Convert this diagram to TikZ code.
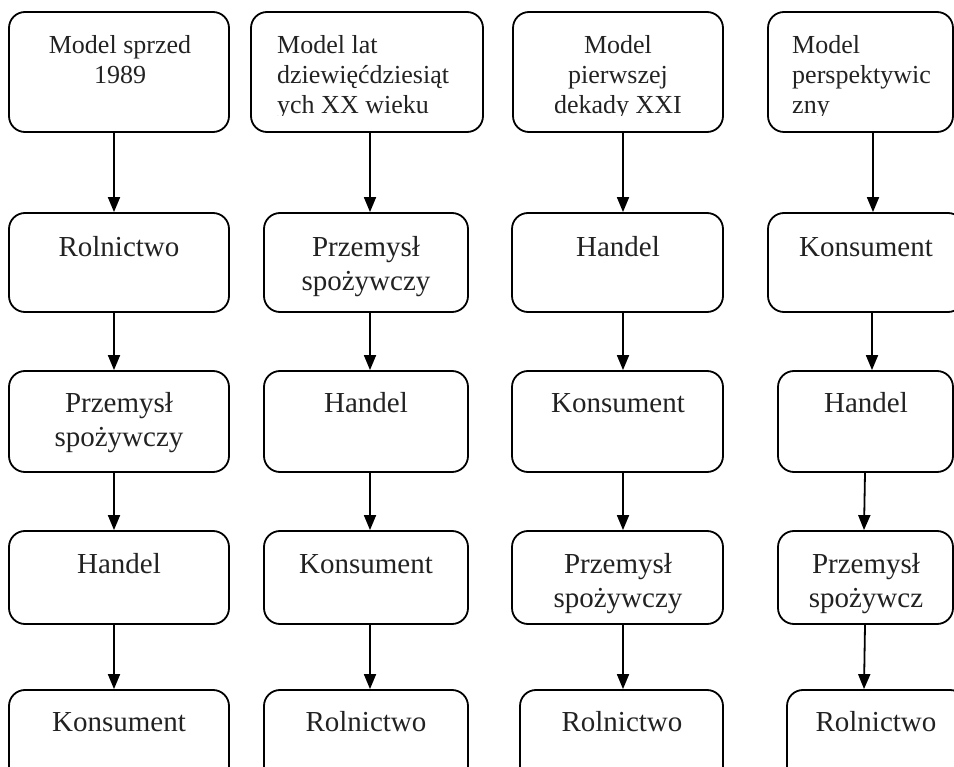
\documentclass[tikz,border=0pt]{standalone}
\usepackage{fontspec}
\setmainfont{Liberation Serif}
\usetikzlibrary{arrows.meta,fit}
\definecolor{textc}{HTML}{222222}
\tikzset{
  box/.style={draw=black, line width=1.8pt, rounded corners=16pt, inner sep=0pt},
  arr/.style={draw=black, line width=1.8pt, -{Triangle[width=12pt,length=15pt]}},
  lbl/.style={text=textc, inner sep=0pt, anchor=north, align=center, font=\fontsize{29}{34}\selectfont},
  toplbl/.style={text=textc, inner sep=0pt, align=center, font=\fontsize{26}{30}\selectfont},
  topleft/.style={toplbl, anchor=north west, align=left},
  topmid/.style={toplbl, anchor=north},
}
% strut: baseline sits 24pt below the node's north edge (rows 2-5), 22pt (top row)
\newcommand{\bs}{\rule{0pt}{24pt}}
\newcommand{\ts}{\rule{0pt}{22pt}}
\begin{document}
\begin{tikzpicture}[x=1pt,y=-1pt]
\useasboundingbox (0,0) rectangle (954,767);
\clip (0,0) rectangle (954,767);

% ---------- boxes ----------
% row 1
\node[box, fit={(9,12) (229,132)}]   (b11) {};
\node[box, fit={(251,12) (483,132)}] (b12) {};
\node[box, fit={(513,12) (723,132)}] (b13) {};
\node[box, fit={(768,12) (953,132)}] (b14) {};
% row 2
\node[box, fit={(9,213) (229,312)}]   (b21) {};
\node[box, fit={(264,213) (468,312)}] (b22) {};
\node[box, fit={(512,213) (723,312)}] (b23) {};
\node[box, fit={(768,213) (964,312)}] (b24) {};
% row 3
\node[box, fit={(9,371) (229,472)}]   (b31) {};
\node[box, fit={(264,371) (468,472)}] (b32) {};
\node[box, fit={(512,371) (723,472)}] (b33) {};
\node[box, fit={(778,371) (953,472)}] (b34) {};
% row 4
\node[box, fit={(9,531) (229,624)}]   (b41) {};
\node[box, fit={(264,531) (468,624)}] (b42) {};
\node[box, fit={(512,531) (723,624)}] (b43) {};
\node[box, fit={(778,531) (953,624)}] (b44) {};
% row 5 (cut by the lower edge)
\node[box, fit={(9,690) (229,792)}]   (b51) {};
\node[box, fit={(264,690) (468,792)}] (b52) {};
\node[box, fit={(520,690) (723,792)}] (b53) {};
\node[box, fit={(787,690) (966,792)}] (b54) {};

% ---------- top row texts (clipped at the lower line) ----------
\begin{scope}
\clip (0,0) rectangle (954,116);
\node[topmid]  (t11) at (120,31) {\ts Model sprzed\\1989};
\node[topleft] (t12) at (277,31) {\ts Model lat\\dziewięćdziesiąt\\ych XX wieku};
\node[topmid]  (t13) at (618,31) {\ts Model\\pierwszej\\dekady XXI};
\node[topleft] (t14) at (792,31) {\ts Model\\perspektywic\\zny};
\end{scope}

% ---------- texts rows 2-5 ----------
\node[lbl] (t21) at (119,232) {\bs Rolnictwo};
\node[lbl] (t22) at (366,232) {\bs Przemysł\\spożywczy};
\node[lbl] (t23) at (618,232) {\bs Handel};
\node[lbl] (t24) at (866,232) {\bs Konsument};

\node[lbl] (t31) at (119,388) {\bs Przemysł\\spożywczy};
\node[lbl] (t32) at (366,388) {\bs Handel};
\node[lbl] (t33) at (618,388) {\bs Konsument};
\node[lbl] (t34) at (866,388) {\bs Handel};

\node[lbl] (t41) at (119,549) {\bs Handel};
\node[lbl] (t42) at (366,549) {\bs Konsument};
\node[lbl] (t43) at (618,549) {\bs Przemysł\\spożywczy};
\node[lbl] (t44) at (866,549) {\bs Przemysł\\spożywcz};

\node[lbl] (t51) at (119,707) {\bs Konsument};
\node[lbl] (t52) at (366,707) {\bs Rolnictwo};
\node[lbl] (t53) at (622,707) {\bs Rolnictwo};
\node[lbl] (t54) at (876,707) {\bs Rolnictwo};

% ---------- arrow columns ----------
\coordinate (c1) at (114,0);
\coordinate (c2) at (370,0);
\coordinate (c3) at (623,0);
\coordinate (c4a) at (873,0);
\coordinate (c4b) at (872,0);
\coordinate (c4c) at (865,0);
\coordinate (c4d) at (864,0);

% ---------- arrows ----------
\draw[arr] (b11.south -| c1) -- (b21.north -| c1);
\draw[arr] (b21.south -| c1) -- (b31.north -| c1);
\draw[arr] (b31.south -| c1) -- (b41.north -| c1);
\draw[arr] (b41.south -| c1) -- (b51.north -| c1);

\draw[arr] (b12.south -| c2) -- (b22.north -| c2);
\draw[arr] (b22.south -| c2) -- (b32.north -| c2);
\draw[arr] (b32.south -| c2) -- (b42.north -| c2);
\draw[arr] (b42.south -| c2) -- (b52.north -| c2);

\draw[arr] (b13.south -| c3) -- (b23.north -| c3);
\draw[arr] (b23.south -| c3) -- (b33.north -| c3);
\draw[arr] (b33.south -| c3) -- (b43.north -| c3);
\draw[arr] (b43.south -| c3) -- (b53.north -| c3);

\draw[arr] (b14.south -| c4a) -- (b24.north -| c4a);
\draw[arr] (b24.south -| c4b) -- (b34.north -| c4b);
\draw[arr] (b34.south -| c4c) -- (b44.north -| c4d);
\draw[arr] (b44.south -| c4c) -- (b54.north -| c4d);
\end{tikzpicture}
\end{document}
